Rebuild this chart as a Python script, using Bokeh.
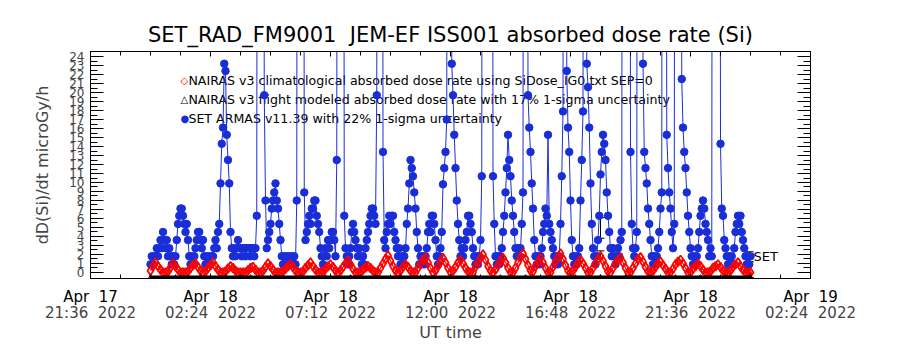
from bokeh.plotting import figure
from bokeh.models import (LinearAxis, FixedTicker, Range1d, Label, Whisker,
                          ColumnDataSource, TeeHead)
from bokeh.embed import file_html
from bokeh.resources import INLINE

FONT = "DejaVu Sans"
BLUE = "#1a2ed8"
RED = "#ff0000"
NB = "\u00a0"

title_text = "SET_RAD_FM9001" + NB + NB + "JEM-EF ISS001 absorbed dose rate (Si)"
y_label = "dD(Si)/dt microGy/h"
x_label = "UT time"

# x axis: minutes since 2022-04-18 00:00 UT
x_tick_pos = [-144, 144, 432, 720, 1008, 1296, 1584]
x_tick_line1 = ["Apr  17", "Apr  18", "Apr  18", "Apr  18", "Apr  18", "Apr  18", "Apr  19"]
x_tick_line2 = ["21:36  2022", "02:24  2022", "07:12  2022", "12:00  2022",
                "16:48  2022", "21:36  2022", "02:24  2022"]
y_ticks = list(range(0, 25))

legend_texts = [
    "NAIRAS v3 climatological absorbed dose rate using SiDose_IG0.txt SEP=0",
    "NAIRAS v3 flight modeled absorbed dose rate with 17% 1-sigma uncertainty",
    "SET ARMAS v11.39 with 22% 1-sigma uncertainty",
]

# SET ARMAS measured dose rate, one value every 3 minutes from 00:00 UT
armas_step_min = 3
armas_dose = [
    0.9, 1.8, 0.9, 1.8, 1.8, 2.7, 1.8, 2.7, 3.6, 2.7,
    4.5, 3.6, 2.7, 3.6, 1.8, 2.7, 1.8, 0.9, 1.8, 0.9,
    1.8, 3.6, 5.4, 6.3, 7.1, 7.1, 6.3, 5.4, 4.5, 5.4,
    3.6, 1.8, 0.9, 1.8, 0.9, 1.8, 2.7, 3.6, 4.5, 4.5,
    3.6, 2.7, 3.6, 1.8, 0.9, 1.8, 0.9, 1.8, 0.9, 1.8,
    1.8, 2.7, 3.6, 2.7, 4.5, 5.4, 9.9, 14.3, 16.1, 23.2,
    22.4, 15.3, 12.5, 9.9, 4.5, 2.7, 1.8, 2.7, 1.8, 2.7,
    3.6, 2.7, 2.7, 1.8, 2.7, 2.7, 1.8, 2.7, 2.7, 2.7,
    1.8, 2.7, 2.7, 1.8, 2.7, 6.3, 150, 150, 150, 150,
    150, 19.7, 8.0, 2.7, 3.6, 4.5, 5.4, 7.1, 8.0, 8.9,
    9.9, 8.0, 7.1, 5.4, 3.6, 1.8, 0.9, 1.8, 0.9, 1.8,
    0.9, 1.8, 0.9, 1.8, 0.9, 1.8, 0.9, 8.0, 150, 150,
    150, 150, 150, 8.9, 3.6, 4.5, 5.4, 6.3, 5.4, 7.1,
    7.1, 8.0, 8.0, 6.3, 5.4, 4.5, 2.7, 1.8, 0.9, 1.8,
    2.7, 1.8, 3.6, 2.7, 3.6, 4.5, 4.5, 3.6, 1.8, 12.5,
    150, 150, 150, 150, 150, 6.3, 2.7, 1.8, 0.9, 1.8,
    2.7, 4.5, 5.4, 4.5, 3.6, 2.7, 1.8, 2.7, 1.8, 0.9,
    1.8, 0.9, 2.7, 3.6, 4.5, 5.4, 6.3, 7.1, 7.1, 6.3,
    5.4, 19.7, 150, 150, 150, 150, 13.4, 3.6, 2.7, 4.5,
    5.4, 6.3, 5.4, 6.3, 6.3, 4.5, 3.6, 2.7, 1.8, 2.7,
    0.9, 1.8, 0.9, 1.8, 2.7, 5.4, 7.1, 9.9, 12.5, 11.6,
    10.7, 8.9, 7.1, 4.5, 2.7, 0.9, 1.8, 0.9, 1.8, 0.9,
    1.8, 2.7, 4.5, 5.4, 4.5, 6.3, 6.3, 5.4, 3.6, 1.8,
    0.9, 1.8, 2.7, 4.5, 9.8, 11.6, 13.4, 17.0, 150, 150,
    150, 23.2, 19.7, 15.3, 11.6, 8.0, 5.4, 3.6, 1.8, 2.7,
    1.8, 2.7, 3.6, 4.5, 6.3, 6.3, 5.4, 4.5, 2.7, 1.8,
    0.9, 1.8, 0.9, 1.8, 3.6, 10.7, 150, 150, 150, 150,
    150, 150, 150, 150, 10.7, 5.4, 1.8, 0.9, 1.8, 0.9,
    1.8, 2.7, 4.5, 6.3, 8.9, 11.6, 15.3, 12.5, 10.7, 8.0,
    6.3, 4.5, 2.7, 1.8, 2.7, 1.8, 2.7, 5.4, 8.9, 150,
    150, 150, 19.7, 16.1, 13.4, 9.9, 7.1, 3.6, 1.8, 0.9,
    1.8, 0.9, 1.8, 2.7, 4.5, 5.4, 7.1, 6.3, 15.3, 5.4,
    4.5, 3.6, 2.7, 1.8, 0.9, 1.8, 0.9, 1.8, 5.4, 10.7,
    17.9, 150, 150, 22.4, 16.1, 13.4, 8.0, 3.6, 1.8, 0.9,
    1.8, 0.9, 1.8, 2.7, 8.0, 12.5, 17.9, 150, 150, 23.2,
    20.6, 16.1, 9.9, 5.4, 2.7, 1.8, 0.9, 1.8, 3.6, 6.3,
    10.9, 13.4, 15.3, 14.3, 12.5, 8.9, 6.3, 4.5, 2.7, 1.8,
    2.7, 1.8, 0.9, 1.8, 2.7, 1.8, 3.6, 4.5, 150, 150,
    150, 150, 150, 150, 13.4, 5.4, 2.7, 1.8, 2.7, 4.5,
    150, 150, 150, 150, 23.2, 13.4, 11.6, 9.9, 7.1, 5.4,
    3.6, 1.8, 0.9, 1.8, 0.9, 1.8, 2.7, 4.5, 7.1, 8.9,
    150, 150, 150, 15.3, 11.6, 8.9, 7.1, 4.5, 2.7, 5.4,
    150, 150, 150, 150, 150, 21.5, 16.1, 13.4, 11.6, 8.9,
    6.3, 4.5, 2.7, 1.8, 0.9, 1.8, 0.9, 1.8, 2.7, 4.5,
    6.3, 7.1, 8.0, 7.1, 5.4, 4.5, 3.6, 1.8, 2.7, 1.8,
    150, 150, 150, 150, 150, 150, 14.3, 7.1, 6.3, 3.6,
    2.7, 1.8, 0.9, 1.8, 0.9, 1.8, 0.9, 2.7, 4.5, 5.4,
    6.3, 5.4, 6.3, 4.5, 3.6, 2.7, 1.8, 0.9, 1.8, 0.9, 1.8,
]

# NAIRAS v3 climatological dose rate, one value every 6 minutes from 00:00 UT
nairas_clim_step_min = 6
nairas_clim_dose = [
    0.2, 0.7, 1.1, 0.7, 0.3, 0.0, 0.0, 0.1, 0.55, 1.0,
    0.7, 0.3, 0.0, 0.0, 0.0, 0.1, 0.5, 0.8, 1.0, 0.6,
    0.2, 0.0, 0.1, 0.5, 0.8, 1.1, 0.7, 0.3, 0.0, 0.0,
    0.1, 0.45, 0.7, 0.5, 0.2, 0.0, 0.0, 0.0, 0.0, 0.25,
    0.5, 0.6, 0.3, 0.0, 0.0, 0.2, 0.6, 1.0, 0.7, 0.3,
    0.0, 0.0, 0.0, 0.1, 0.4, 0.7, 0.9, 0.6, 0.2, 0.0,
    0.0, 0.1, 0.5, 0.8, 1.1, 0.7, 0.3, 0.0, 0.0, 0.1,
    0.4, 0.7, 0.9, 0.6, 0.2, 0.0, 0.2, 0.6, 1.0, 1.3,
    0.9, 0.4, 0.0, 0.0, 0.0, 0.3, 0.55, 0.7, 0.5, 0.2,
    0.0, 0.0, 0.5, 1.0, 1.5, 1.9, 1.3, 0.7, 0.2, 0.0,
    0.2, 0.6, 0.9, 0.6, 0.2, 0.0, 0.0, 0.5, 1.0, 1.4,
    1.6, 1.1, 0.5, 0.0, 0.2, 0.7, 1.2, 1.6, 1.1, 0.5,
    0.0, 0.2, 0.6, 1.1, 1.4, 1.0, 0.5, 0.1, 0.0, 0.0,
    0.6, 1.1, 1.6, 2.0, 1.4, 0.7, 0.2, 0.0, 0.3, 0.8,
    1.3, 1.6, 1.1, 0.5, 0.0, 0.0, 0.5, 1.1, 1.7, 2.1,
    1.5, 0.8, 0.2, 0.1, 0.7, 1.2, 1.6, 1.1, 0.5, 0.0,
    0.0, 0.6, 1.2, 1.7, 2.1, 1.5, 0.8, 0.2, 0.0, 0.2,
    0.6, 1.1, 1.4, 1.0, 0.5, 0.0, 0.0, 0.5, 1.0, 1.5,
    1.8, 1.3, 0.7, 0.1, 0.0, 0.5, 1.0, 1.4, 1.6, 1.1,
    0.5, 0.0, 0.0, 0.5, 1.0, 1.5, 1.7, 1.2, 0.6, 0.1,
    0.0, 0.2, 0.6, 1.0, 1.2, 0.8, 0.4, 0.0, 0.0, 0.4,
    0.9, 1.2, 1.4, 1.0, 0.5, 0.0, 0.0, 0.4, 0.7, 1.0,
    0.7, 0.3, 0.0, 0.0, 0.1, 0.5, 0.7, 0.9, 0.6, 0.2,
    0.0, 0.0, 0.2, 0.6, 0.9, 1.1, 0.7, 0.3, 0.0, 0.0,
    0.0,
]

# NAIRAS v3 flight-modeled dose rate, hourly from 00:00 UT
nairas_flight_time_h = [0, 1, 2, 3, 4, 5, 6, 7, 8, 9, 10, 11, 12,
                        13, 14, 15, 16, 17, 18, 19, 20, 21, 22, 23, 24]
nairas_flight_dose = [-0.5, -0.5, -0.5, -0.5, -0.5, -0.5, -0.5, -0.5, -0.5,
                      -0.5, -0.5, -0.5, -0.5, -0.5, -0.5, -0.5, -0.5, -0.5,
                      -0.5, -0.5, -0.5, -0.5, -0.5, -0.5, -0.5]

# uncertainty bars
err_time_min = [1080, 1080, 1438, 1438]
err_low = [3.8, 1.6, 1.2, -0.55]
err_high = [6.1, 2.4, 2.3, -0.1]

armas_t = [i * armas_step_min for i in range(len(armas_dose))]
clim_t = [i * nairas_clim_step_min for i in range(len(nairas_clim_dose))]
flight_t = [h * 60 for h in nairas_flight_time_h]
x_minor = list(range(-144, 1585, 72))
y_minor = [k * 0.5 for k in range(0, 49)]


def nb(s):
    return s.replace(" ", NB)


p = figure(width=900, height=350, x_range=Range1d(-144, 1584),
           y_range=Range1d(-0.67, 24.56), output_backend="svg",
           toolbar_location=None, min_border_left=90, min_border_right=90,
           min_border_top=51, min_border_bottom=72)
p.grid.visible = False
p.outline_line_color = "black"
p.background_fill_color = "white"
p.border_fill_color = "white"

p.title.text = title_text
p.title.align = "center"
p.title.text_font = FONT
p.title.text_font_size = "21px"
p.title.text_font_style = "normal"
p.title.text_color = "black"

xt = FixedTicker(ticks=x_tick_pos, minor_ticks=x_minor)
yt = FixedTicker(ticks=y_ticks, minor_ticks=y_minor)

bx = p.xaxis[0]
bx.ticker = xt
bx.major_label_overrides = {k: nb(v) for k, v in zip(x_tick_pos, x_tick_line1)}
bx.major_tick_in = 5
bx.major_tick_out = 0
bx.minor_tick_in = 4
bx.minor_tick_out = 0
bx.major_label_standoff = 9
bx.major_label_text_font = FONT
bx.major_label_text_font_size = "15px"
bx.major_label_text_color = "black"

bx2 = LinearAxis(ticker=FixedTicker(ticks=x_tick_pos),
                 major_label_overrides={k: nb(v) for k, v in zip(x_tick_pos, x_tick_line2)},
                 axis_line_color=None, major_tick_line_color=None,
                 minor_tick_line_color=None, major_label_standoff=-11,
                 major_label_text_font=FONT, major_label_text_font_size="15px",
                 axis_label=x_label, axis_label_text_font=FONT,
                 axis_label_text_font_size="16px", axis_label_text_font_style="normal",
                 axis_label_standoff=-2)
p.add_layout(bx2, "below")

ly = p.yaxis[0]
ly.ticker = yt
ly.major_tick_in = 13
ly.major_tick_out = 0
ly.minor_tick_in = 7
ly.minor_tick_out = 0
ly.major_label_standoff = 6
ly.major_label_text_font = FONT
ly.major_label_text_font_size = "12px"
ly.axis_label = y_label
ly.axis_label_text_font = FONT
ly.axis_label_text_font_size = "16px"
ly.axis_label_text_font_style = "normal"
ly.axis_label_standoff = 14

tx = LinearAxis(ticker=xt, major_tick_in=5, major_tick_out=0, minor_tick_in=4,
                minor_tick_out=0, major_label_overrides={k: "" for k in x_tick_pos},
                major_label_standoff=0)
p.add_layout(tx, "above")
ry = LinearAxis(ticker=yt, major_tick_in=13, major_tick_out=0, minor_tick_in=7,
                minor_tick_out=0, major_label_overrides={k: "" for k in y_ticks},
                major_label_standoff=0)
p.add_layout(ry, "right")

# legend text (drawn under the data, as in the original)
leg_x = 91
leg_sym_x = 72
leg_y = [21.33, 19.22, 17.11]
sym = [("\u25c7", RED), ("\u25b3", "black"), ("\u25cf", BLUE)]
for txt, yy, (s, c) in zip(legend_texts, leg_y, sym):
    p.add_layout(Label(x=leg_x, y=yy, text=txt, text_font=FONT, text_font_size="12.6px",
                       text_baseline="middle", text_color="black", level="underlay"))
    p.add_layout(Label(x=leg_sym_x, y=yy, text=s, text_font=FONT, text_font_size="10px",
                       text_baseline="middle", text_color=c, level="underlay"))

# data
p.line(armas_t, armas_dose, line_color=BLUE, line_width=1)
p.scatter(armas_t, armas_dose, marker="circle", size=7.5, fill_color=BLUE, line_color=BLUE)
p.line(clim_t, nairas_clim_dose, line_color=RED, line_width=1.2)
p.scatter(clim_t, nairas_clim_dose, marker="diamond", size=9, fill_color=None,
          line_color=RED, line_width=1.8)
p.line(flight_t, nairas_flight_dose, line_color="black", line_width=3)
p.scatter(flight_t, nairas_flight_dose, marker="triangle", size=4, fill_color=None,
          line_color="black")

src = ColumnDataSource(dict(t=err_time_min, lo=err_low, hi=err_high))
p.add_layout(Whisker(source=src, base="t", lower="lo", upper="hi", line_color="black",
                     line_width=1,
                     upper_head=TeeHead(size=8, line_color="black"),
                     lower_head=TeeHead(size=8, line_color="black")))
p.add_layout(Label(x=1447, y=1.78, text="SET", text_font=FONT, text_font_size="13px",
                   text_baseline="middle", text_color="black"))

open("out.html", "w").write(file_html(p, INLINE))
